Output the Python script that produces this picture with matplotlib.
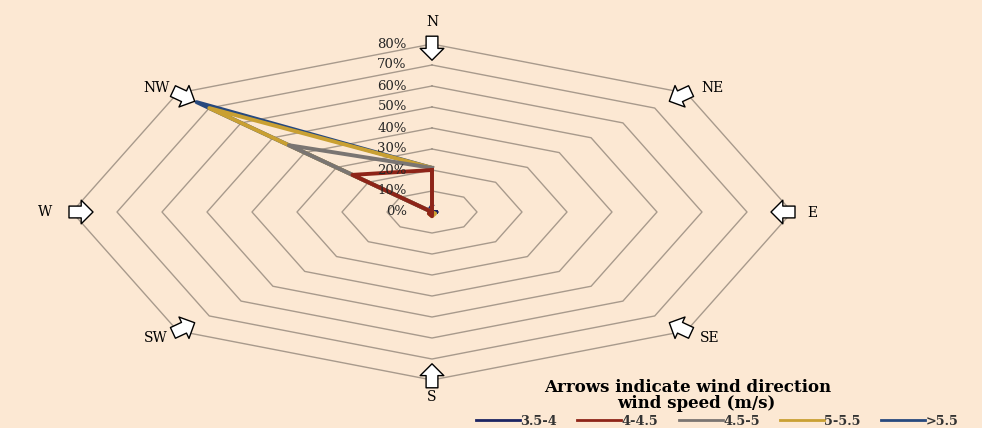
import numpy as np
import matplotlib
matplotlib.use("Agg")
import matplotlib.pyplot as plt
from matplotlib.lines import Line2D

# data (percent of time, per direction)
directions = ["N", "NE", "E", "SE", "S", "SW", "W", "NW"]
speed_bins = ["3.5-4", "4-4.5", "4.5-5", "5-5.5", ">5.5"]
s_35_4 = [3, 0, 1, 0, 0, 0, 0, 1]
s_4_45 = [20, 0, 0, 0, 2, 1, 0, 25]
s_45_5 = [21, 0, 0, 0, 0, 0, 0, 45]
s_5_55 = [21, 0, 0, 1, 2, 1, 0, 70]
s_gt55 = [21, 0, 0, 0, 0, 0, 0, 74]
ring_levels = [10, 20, 30, 40, 50, 60, 70, 80]
ring_labels = ["0%", "10%", "20%", "30%", "40%", "50%", "60%", "70%", "80%"]

series = [s_35_4, s_4_45, s_45_5, s_5_55, s_gt55]
colors = ["#1c2462", "#8e2418", "#7a7572", "#c9a032", "#27497e"]
zorders = [6, 10, 9, 8, 7]

bg = "#fce8d3"
grid_c = "#a89a8c"

# stretched radar: x scale 4.5 px per %, y scale 2.1 px per %
sx, sy = 4.5, 2.1
cx, cy = 432, 212

fig = plt.figure(figsize=(9.82, 4.28), dpi=100, facecolor=bg)
ax = fig.add_axes([0, 0, 1, 1])
ax.set_facecolor(bg)
ax.set_xlim(-cx / sx, (982 - cx) / sx)
ax.set_ylim((cy - 428) / sy, cy / sy)
ax.axis("off")

theta = np.arange(8) * np.pi / 4
ux, vy = np.sin(theta), np.cos(theta)

def xy(r):
    r = np.asarray(r, dtype=float)
    return r * ux, r * vy

# octagon grid
for lev in ring_levels:
    x, y = xy([lev] * 8)
    ax.plot(np.append(x, x[0]), np.append(y, y[0]), color=grid_c, lw=1.0, zorder=1)

# percent labels on the N spoke
for i, lab in enumerate(ring_labels):
    ax.text(-5.6, i * 10, lab, ha="right", va="center", fontsize=9.5,
            family="DejaVu Serif", color="#262626", zorder=12)

# series
for vals, c, z in zip(series, colors, zorders):
    x, y = xy(vals)
    ax.plot(np.append(x, x[0]), np.append(y, y[0]), color=c, lw=2.8,
            solid_joinstyle="round", zorder=z)

# direction arrows (point inward) and labels
r_arrow = 78
half = 12  # px
lab_pos = {"N": (432, 22), "NE": (712, 88), "E": (812, 213), "SE": (710, 338),
           "S": (432, 397), "SW": (156, 338), "W": (45, 212), "NW": (157, 88)}
for k, d in enumerate(directions):
    cu, cv = r_arrow * ux[k], r_arrow * vy[k]
    dx, dy = -ux[k] * sx, -vy[k] * sy
    n = np.hypot(dx, dy)
    dx, dy = dx / n, dy / n
    tip = (cu + half * dx / sx, cv + half * dy / sy)
    tail = (cu - half * dx / sx, cv - half * dy / sy)
    ax.annotate("", xy=tip, xytext=tail,
                arrowprops=dict(arrowstyle="simple,head_length=0.5,head_width=1.0,tail_width=0.5",
                                fc="white", ec="black", lw=1.0, shrinkA=0, shrinkB=0,
                                mutation_scale=17), zorder=11)
    px, py = lab_pos[d]
    ax.text((px - cx) / sx, (cy - py) / sy, d, ha="center", va="center",
            fontsize=10, family="DejaVu Serif", color="black")

# legend title (two lines) and entries
fig.text(688 / 982, 1 - 388 / 428, "Arrows indicate wind direction", ha="center", va="center",
         family="DejaVu Serif", weight="bold", size=12)
fig.text(696 / 982, 1 - 404 / 428, "wind speed (m/s)", ha="center", va="center",
         family="DejaVu Serif", weight="bold", size=12)
handles = [Line2D([], [], color=c, lw=2) for c in colors]
leg = fig.legend(handles, speed_bins, loc="lower left", bbox_to_anchor=(476 / 982, 0.0),
                 ncol=5, frameon=False, handlelength=3.4, handletextpad=0.05,
                 columnspacing=1.55, borderpad=0.0, borderaxespad=0.0,
                 prop={"family": "DejaVu Serif", "weight": "bold", "size": 9.3})
for t in leg.get_texts():
    t.set_color("#333333")

fig.savefig("out.png", dpi=100, facecolor=bg)
